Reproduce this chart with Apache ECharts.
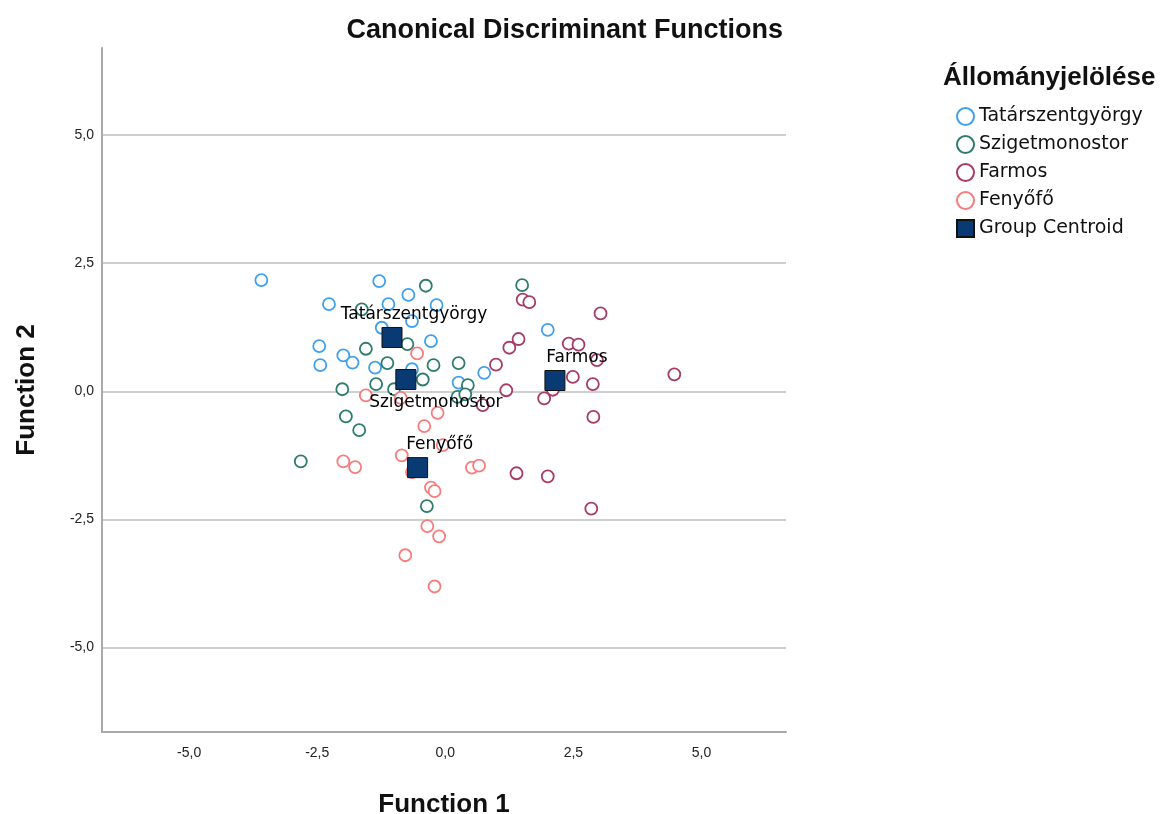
<!DOCTYPE html>
<html>
<head>
<meta charset="utf-8">
<script src="https://cdn.jsdelivr.net/npm/echarts@6/dist/echarts.min.js"></script>
<style>html,body{margin:0;padding:0;background:#fff}#c{width:1160px;height:814px}</style>
</head>
<body>
<div id="c"></div>
<script>
const groupNames = ['Tatárszentgyörgy', 'Szigetmonostor', 'Farmos', 'Fenyőfő'];
const centroidName = 'Group Centroid';
const tickValues = [-5, -2.5, 0, 2.5, 5];

const tatarX = [-3.59, -1.29, -2.27, -0.72, -1.11, -0.17, -0.65, -1.24, -0.28, -2.46, -1.99, -1.81, -2.44, -1.37, -0.65, 0.26, 2.00, 0.76];
const tatarY = [2.17, 2.15, 1.70, 1.88, 1.70, 1.68, 1.37, 1.24, 0.98, 0.88, 0.70, 0.56, 0.51, 0.46, 0.43, 0.17, 1.20, 0.36];

const szigetX = [-0.38, -1.63, -0.74, -1.55, -1.13, -0.23, 0.26, -1.35, -0.44, -2.01, -1.00, 0.44, 0.24, 0.39, 1.50, -1.94, -1.68, -2.82, -0.36];
const szigetY = [2.06, 1.60, 0.92, 0.83, 0.55, 0.51, 0.55, 0.14, 0.23, 0.04, 0.04, 0.12, -0.11, -0.06, 2.07, -0.49, -0.76, -1.37, -2.24];

const farmosX = [1.51, 1.64, 3.03, 1.43, 1.25, 2.41, 2.60, 2.96, 0.99, 2.49, 4.47, 2.88, 1.19, 1.93, 2.10, 2.89, 1.39, 2.00, 2.85, 0.73];
const farmosY = [1.79, 1.74, 1.52, 1.02, 0.85, 0.93, 0.91, 0.61, 0.52, 0.28, 0.33, 0.14, 0.02, -0.14, 0.03, -0.50, -1.60, -1.66, -2.29, -0.27];

const fenyoX = [-0.55, -1.55, -0.87, -0.15, -0.41, -0.05, -0.85, -1.99, -1.76, -0.65, 0.52, 0.66, -0.28, -0.21, -0.35, -0.12, -0.78, -0.21];
const fenyoY = [0.74, -0.08, -0.13, -0.42, -0.68, -1.05, -1.25, -1.37, -1.48, -1.58, -1.49, -1.45, -1.88, -1.95, -2.63, -2.83, -3.20, -3.81];

const centroidX = [-1.04, -0.77, 2.14, -0.54];
const centroidY = [1.05, 0.23, 0.21, -1.49];

const colors = ['#3fa0ef', '#2e7b6f', '#a63a69', '#f87c7c'];
const centroidColor = '#0a3a73';

function pairs(xs, ys) { return xs.map((x, i) => [x, ys[i]]); }
const fmt = v => v.toFixed(1).replace('.', ',');

const groupData = [pairs(tatarX, tatarY), pairs(szigetX, szigetY), pairs(farmosX, farmosY), pairs(fenyoX, fenyoY)];

const series = groupNames.map((n, i) => ({
  name: n,
  type: 'scatter',
  symbol: 'circle',
  symbolSize: 12,
  data: groupData[i],
  itemStyle: { color: '#ffffff', borderColor: colors[i], borderWidth: 1.8, opacity: 1 },
  emphasis: { disabled: true },
  z: 2
}));

series.push({
  name: centroidName,
  type: 'scatter',
  symbol: 'rect',
  symbolSize: 20,
  z: 5,
  itemStyle: { color: centroidColor, borderColor: '#111', borderWidth: 1, opacity: 1 },
  emphasis: { disabled: true },
  data: centroidX.map((x, i) => ({
    name: groupNames[i],
    value: [x, centroidY[i]],
    label: {
      show: true,
      formatter: '{b}',
      position: i === 1 ? 'bottom' : 'top',
      distance: 4,
      offset: i === 1 ? [30, 0] : [22, 0],
      color: '#000',
      fontSize: 17,
      fontFamily: 'DejaVu Sans'
    }
  }))
});

const chart = echarts.init(document.getElementById('c'), null, { renderer: 'canvas' });
chart.setOption({
  animation: false,
  backgroundColor: '#ffffff',
  title: [
    { text: 'Canonical Discriminant Functions', right: 372, top: 12,
      textStyle: { fontFamily: 'Liberation Sans', fontWeight: 'bold', fontSize: 27, color: '#111' } },
    { text: 'Állományjelölése', left: 938, top: 60,
      textStyle: { fontFamily: 'Liberation Sans', fontWeight: 'bold', fontSize: 26, color: '#111' } }
  ],
  legend: {
    orient: 'vertical',
    left: 951,
    top: 102,
    itemWidth: 17,
    itemHeight: 17,
    itemGap: 9,
    selectedMode: false,
    data: groupNames.concat([centroidName]),
    textStyle: { fontFamily: 'DejaVu Sans', fontSize: 19, color: '#111' }
  },
  grid: { left: 102, right: 374, top: 48, bottom: 82, containLabel: false, outerBoundsMode: 'none' },
  xAxis: {
    type: 'value',
    min: -6.7, max: 6.65,
    name: 'Function 1',
    nameLocation: 'middle',
    nameGap: 60,
    nameTextStyle: { fontFamily: 'Liberation Sans', fontWeight: 'bold', fontSize: 26, color: '#111' },
    axisLine: { show: true, onZero: false, lineStyle: { color: '#a9a9a9', width: 2 } },
    axisTick: { show: false, customValues: tickValues },
    axisLabel: { customValues: tickValues, formatter: fmt, margin: 14, fontFamily: 'Liberation Sans', fontSize: 14, color: '#222' },
    splitLine: { show: false }
  },
  yAxis: {
    type: 'value',
    min: -6.65, max: 6.7,
    name: 'Function 2',
    nameLocation: 'middle',
    nameGap: 62,
    nameRotate: 90,
    nameTextStyle: { fontFamily: 'Liberation Sans', fontWeight: 'bold', fontSize: 26, color: '#111' },
    axisLine: { show: true, onZero: false, lineStyle: { color: '#a9a9a9', width: 2 } },
    axisTick: { show: false, customValues: tickValues },
    axisLabel: { customValues: tickValues, formatter: fmt, margin: 8, fontFamily: 'Liberation Sans', fontSize: 14, color: '#222' },
    splitLine: { show: true, lineStyle: { color: '#cfcfcf', width: 2 } }
  },
  series: series
});
</script>
</body>
</html>
